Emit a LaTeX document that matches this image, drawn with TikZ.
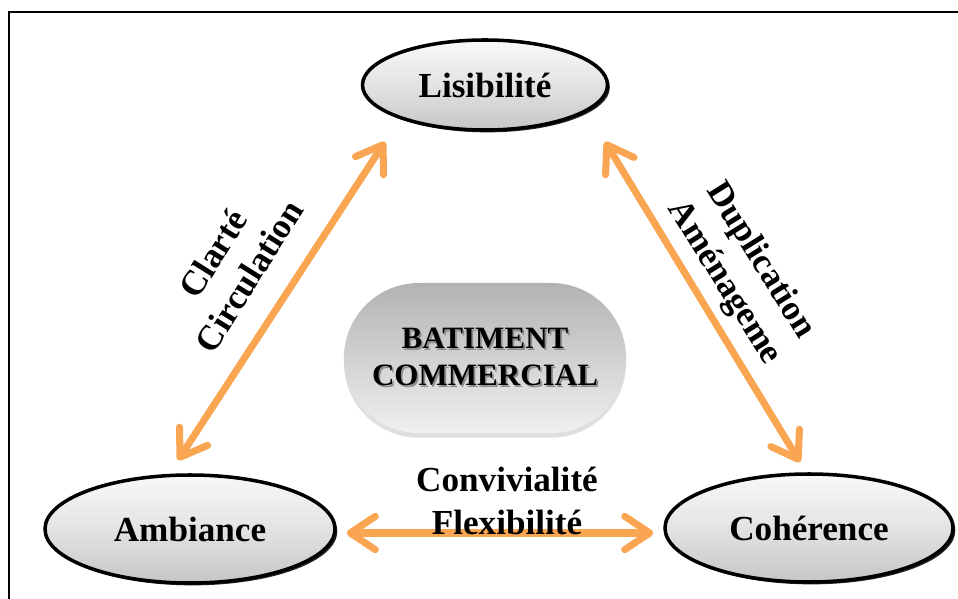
\documentclass[tikz,border=0pt]{standalone}
\usepackage{fontspec}
\setmainfont{Liberation Serif}
\usetikzlibrary{positioning,arrows.meta,shapes.geometric,shapes.misc,shadows}

\definecolor{linkorange}{HTML}{F9A552}
\newcommand{\bigfont}{\fontsize{30}{36}\selectfont\bfseries}
\newcommand{\corefont}{\fontsize{26.5}{32}\selectfont\bfseries}
% gray copy of the text, pushed down-right, under the black one
\newcommand{\shtext}[1]{\rlap{\kern1.5pt\raisebox{-1.5pt}{\textcolor{black!45}{#1}}}#1}

\tikzset{
  oval/.style={ellipse, draw=black, line width=3pt, top color=gray!5, bottom color=gray!45,
    middle color=gray!22, inner sep=0pt, font=\bigfont,
    drop shadow={shadow xshift=2pt, shadow yshift=-2pt, fill=black, opacity=0.85}},
  corebox/.style={rounded rectangle, draw=none, top color=gray!60, bottom color=gray!12,
    font=\corefont, align=center, minimum width=8.7cm, minimum height=4.5cm,
    drop shadow={shadow xshift=0pt, shadow yshift=-4pt, opacity=0.25}},
  link/.style={draw=linkorange, line width=6pt,
    {Straight Barb[round,length=7.5mm,width=10mm]}-{Straight Barb[round,length=7.5mm,width=10mm]}},
  linklabel/.style={font=\bigfont, align=center, inner sep=0pt}
}

\begin{document}
\begin{tikzpicture}[x=0.03cm, y=-0.03cm]
\useasboundingbox (0,0) rectangle (958,599);
% frame, only its top and left sides fall inside the page
\draw[line width=2.2pt] (9,640) -- (9,12) -- (990,12);

% the four shapes
\node[corebox] (core) at (485,358) {\shtext{BATIMENT}\\\shtext{COMMERCIAL}};
\node[oval, minimum width=7.35cm, minimum height=2.7cm] (lis) at (485,85) {Lisibilité};
\node[oval, minimum width=8.7cm, minimum height=3.24cm] (amb) at (190,529) {Ambiance\hspace{0.6cm}};
\node[oval, minimum width=8.64cm, minimum height=3.24cm] (coh) at (809,528) {Cohérence\hspace{0.6cm}};

% double arrows between the ovals
\draw[link] ([shift={(-12,-13)}]amb.north) -- ([shift={(-100,10)}]lis.south);
\draw[link] ([shift={(120,10)}]lis.south) -- ([shift={(-9,-10)}]coh.north);
\draw[link] ([shift={(10,4)}]amb.east) -- ([shift={(-10,5)}]coh.west);

% labels along the arrows
\node[linklabel, rotate=58] (lblleft) at (231,265) {Clarté\\Circulation};
\node[linklabel, rotate=-58] (lblright) at (742,272) {Duplication\\Aménageme};
\node[linklabel] (lblbottom) at (507,501) {Convivialité\\Flexibilité};
\end{tikzpicture}
\end{document}
